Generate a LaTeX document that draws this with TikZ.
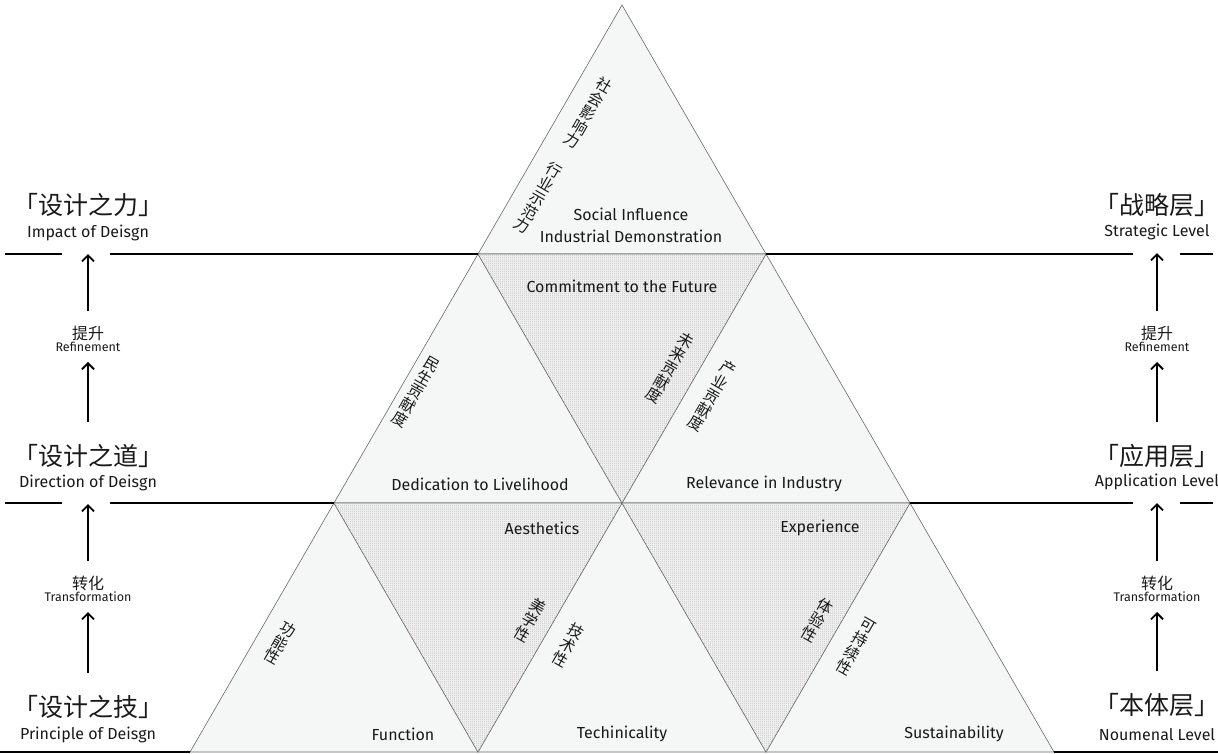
\documentclass[tikz,border=0pt]{standalone}
\usepackage{fontspec}
\setmainfont{Fira Sans}
\newfontfamily\cjk{Noto Sans CJK SC}
\usetikzlibrary{arrows.meta,patterns,positioning}
\definecolor{tri}{RGB}{245,246,246}
\definecolor{edge}{RGB}{105,105,105}
\definecolor{ink}{RGB}{25,25,25}
\pgfdeclarepatternformonly{checker}{\pgfpointorigin}{\pgfpoint{2pt}{2pt}}{\pgfpoint{2pt}{2pt}}{%
  \pgfpathrectangle{\pgfpointorigin}{\pgfpoint{1pt}{1pt}}%
  \pgfpathrectangle{\pgfpoint{1pt}{1pt}}{\pgfpoint{1pt}{1pt}}%
  \pgfusepath{fill}}

\begin{document}
\begin{tikzpicture}[
    x=1pt, y=-1pt,
    upright/.style={fill=tri, draw=edge, line width=0.6pt},
    inverted/.style={fill=gray!8, draw=edge, line width=0.6pt, postaction={pattern=checker, pattern color=gray!50}},
    rule/.style={draw=black, line width=1.1pt},
    uparrow/.style={-{Straight Barb[length=6pt, width=12pt]}, line width=1.8pt, black},
    entext/.style={font=\fontsize{16}{18}\selectfont, text=ink, inner sep=0pt},
    zhcol/.style={font=\cjk\fontsize{15.5}{16}\selectfont, text=ink, align=center, rotate=-30, inner sep=0pt},
    zhlevel/.style={font=\cjk\fontsize{25}{27}\selectfont, text=ink, inner sep=0pt},
    enlevel/.style={font=\fontsize{16}{18}\selectfont, text=ink, inner sep=0pt},
    stepbox/.style={align=center, text=ink, inner sep=0pt}
]
    \useasboundingbox (0,0) rectangle (1218,753);

    % triangle vertices
    \coordinate (p00) at (622,5);
    \coordinate (p10) at (478,254);
    \coordinate (p11) at (766,254);
    \coordinate (p20) at (334,503);
    \coordinate (p21) at (622,503);
    \coordinate (p22) at (910,503);
    \coordinate (p30) at (190,752);
    \coordinate (p31) at (478,752);
    \coordinate (p32) at (766,752);
    \coordinate (p33) at (1054,752);

    % upright and inverted cells
    \draw[upright] (p00) -- (p10) -- (p11) -- cycle;
    \draw[upright] (p10) -- (p20) -- (p21) -- cycle;
    \draw[upright] (p11) -- (p21) -- (p22) -- cycle;
    \draw[upright] (p20) -- (p30) -- (p31) -- cycle;
    \draw[upright] (p21) -- (p31) -- (p32) -- cycle;
    \draw[upright] (p22) -- (p32) -- (p33) -- cycle;
    \draw[inverted] (p10) -- (p11) -- (p21) -- cycle;
    \draw[inverted] (p20) -- (p21) -- (p31) -- cycle;
    \draw[inverted] (p21) -- (p22) -- (p32) -- cycle;

    % level rules
    \draw[rule] (5,254) -- (62,254);
    \draw[rule] (110,254) -- (p10);
    \draw[rule] (p11) -- (1133,254);
    \draw[rule] (1180,254) -- (1213,254);
    \draw[rule] (5,503) -- (62,503);
    \draw[rule] (110,503) -- (p20);
    \draw[rule] (p22) -- (1133,503);
    \draw[rule] (1180,503) -- (1213,503);
    \draw[rule] (0,752) -- (p30);
    \draw[rule] (p33) -- (1218,752);

    % cell labels
    \node[entext, align=center] (social) at (631,225) {Social Influence\\[4pt]Industrial Demonstration};
    \node[zhcol] (shehui) at (588,113) {社\\会\\影\\响\\力};
    \node[zhcol] (hangye) at (538,198) {行\\业\\示\\范\\力};
    \node[entext] (future) at (622,286) {Commitment to the Future};
    \node[zhcol] (weilai) at (670,368) {未\\来\\贡\\献\\度};
    \node[zhcol] (chanye) at (712,396) {产\\业\\贡\\献\\度};
    \node[zhcol] (minsheng) at (416,392) {民\\生\\贡\\献\\度};
    \node[entext] (livelihood) at (480,484) {Dedication to Livelihood};
    \node[entext] (industry) at (764,484) {Relevance in Industry};
    \node[zhcol] (gongneng) at (280,643) {功\\能\\性};
    \node[entext] (function) at (403,734) {Function};
    \node[entext] (aesthetics) at (542,528) {Aesthetics};
    \node[zhcol] (meixue) at (530,620) {美\\学\\性};
    \node[zhcol] (jishu) at (568,645) {技\\术\\性};
    \node[entext] (technical) at (622,734) {Techinicality};
    \node[entext] (experience) at (820,528) {Experience};
    \node[zhcol] (tiyan) at (817,620) {体\\验\\性};
    \node[zhcol] (chixu) at (856,647) {可\\持\\续\\性};
    \node[entext] (sustain) at (954,734) {Sustainability};

    % left column: design levels
    \node[zhlevel] (li) at (88,205) {「设计之力」};
    \node[enlevel] (lien) at (88,233) {Impact of Deisgn};
    \node[stepbox] (refineL) at (88,339) {{\cjk\fontsize{16}{18}\selectfont 提升}\\[0pt]{\fontsize{12.5}{13}\selectfont Refinement}};
    \node[zhlevel] (dao) at (88,456) {「设计之道」};
    \node[enlevel] (daoen) at (88,483) {Direction of Deisgn};
    \node[stepbox] (transL) at (88,589) {{\cjk\fontsize{16}{18}\selectfont 转化}\\[0pt]{\fontsize{12.5}{13}\selectfont Transformation}};
    \node[zhlevel] (ji) at (88,707) {「设计之技」};
    \node[enlevel] (jien) at (88,735) {Principle of Deisgn};

    % right column: layers
    \node[zhlevel] (zhanlue) at (1157,205) {「战略层」};
    \node[enlevel] (zhanlueen) at (1157,232) {Strategic Level};
    \node[stepbox] (refineR) at (1157,339) {{\cjk\fontsize{16}{18}\selectfont 提升}\\[0pt]{\fontsize{12.5}{13}\selectfont Refinement}};
    \node[zhlevel] (yingyong) at (1157,456) {「应用层」};
    \node[enlevel] (yingyongen) at (1157,482) {Application Level};
    \node[stepbox] (transR) at (1157,589) {{\cjk\fontsize{16}{18}\selectfont 转化}\\[0pt]{\fontsize{12.5}{13}\selectfont Transformation}};
    \node[zhlevel] (benti) at (1157,705) {「本体层」};
    \node[enlevel] (bentien) at (1157,735) {Noumenal Level};

    % arrows
    \draw[uparrow, shorten <=15pt, shorten >=13pt] (refineL) -- (lien);
    \draw[uparrow, shorten <=22pt, shorten >=10pt] (dao) -- (refineL);
    \draw[uparrow, shorten <=15pt, shorten >=13pt] (transL) -- (daoen);
    \draw[uparrow, shorten <=22pt, shorten >=10pt] (ji) -- (transL);
    \draw[uparrow, shorten <=15pt, shorten >=13pt] (refineR) -- (zhanlueen);
    \draw[uparrow, shorten <=22pt, shorten >=10pt] (yingyong) -- (refineR);
    \draw[uparrow, shorten <=15pt, shorten >=13pt] (transR) -- (yingyongen);
    \draw[uparrow, shorten <=22pt, shorten >=10pt] (benti) -- (transR);
\end{tikzpicture}
\end{document}
